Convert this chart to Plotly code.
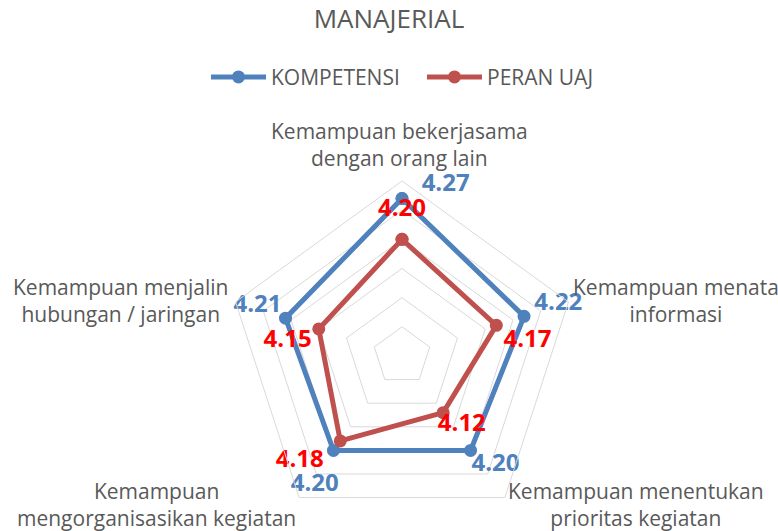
import plotly.graph_objects as go

categories = [
    "Kemampuan bekerjasama<br>dengan orang lain",
    "Kemampuan menata<br>informasi",
    "Kemampuan menentukan<br>prioritas kegiatan",
    "Kemampuan<br>mengorganisasikan kegiatan",
    "Kemampuan menjalin<br>hubungan / jaringan",
]
kompetensi = [4.27, 4.22, 4.20, 4.20, 4.21]
peran_uaj = [4.20, 4.17, 4.12, 4.18, 4.15]

W, H = 778, 531
CX, R = 402, 175
FONT = "Open Sans"
GRAY = "#595959"
BLUE = "#4F81BD"
RED = "#C0504D"
LABEL_FS = 24
NB = "\u00a0"

# data-label placement styles (position, offset distance in px, horizontal nbsp padding)
blue_lab_pos = ["top center", "top center", "bottom center", "bottom center", "top center"]
blue_lab_off = [1.2, 0, 2.9, 22.3, 0]
blue_lab_pad = [14, 11, 8, -6, -9]
red_lab_pos = ["top center", "bottom center", "bottom center", "bottom center", "bottom center"]
red_lab_off = [17.6, 3.4, 0, 8.4, 0]
red_lab_pad = [0, 10, 6, -13, -10]


def closed(v):
    return list(v) + [v[0]]


def off_to_size(o):
    return 1.6 * (o - 1) if o >= 1 else 0


def padded(v, k):
    s = f"{v:.2f}"
    return NB * k + s if k >= 0 else s + NB * (-k)


fig = go.Figure()
for name, vals, color in [("KOMPETENSI", kompetensi, BLUE), ("PERAN UAJ", peran_uaj, RED)]:
    fig.add_trace(go.Scatterpolar(
        r=closed(vals), theta=closed(categories), name=name,
        mode="lines+markers",
        line=dict(color=color, width=5), marker=dict(color=color, size=13),
        hoverinfo="name+r",
    ))

for vals, pos, off, pad, color in [
    (kompetensi, blue_lab_pos, blue_lab_off, blue_lab_pad, BLUE),
    (peran_uaj, red_lab_pos, red_lab_off, red_lab_pad, "#FF0000"),
]:
    fig.add_trace(go.Scatterpolar(
        r=vals, theta=categories, mode="markers+text", showlegend=False, hoverinfo="skip",
        marker=dict(size=[off_to_size(o) for o in off], opacity=0, color=color),
        text=[padded(v, k) for v, k in zip(vals, pad)],
        textposition=pos,
        textfont=dict(family=FONT, size=LABEL_FS, color=color, weight="bold"),
    ))

# category label positions (pixel centres)
label_pos = [(399, 145), (676, 300.5), (636, 504), (156, 504), (120.5, 300.5)]
annotations = []
for cat, (px, py) in zip(categories, label_pos):
    annotations.append(dict(
        text=cat, x=px / W, y=1 - py / H, xref="paper", yref="paper",
        xanchor="center", yanchor="middle", showarrow=False, align="center",
        font=dict(family=FONT, size=21, color=GRAY),
    ))

fig.update_layout(
    width=W, height=H,
    margin=dict(l=0, r=0, t=0, b=0),
    paper_bgcolor="white", plot_bgcolor="white",
    title=dict(text="MANAJERIAL", x=0.5, xanchor="center", y=1 - 19 / H, yanchor="middle",
               font=dict(family=FONT, size=26, color=GRAY)),
    legend=dict(orientation="h", x=206 / W, xanchor="left", y=1 - 77.3 / H, yanchor="middle",
                font=dict(family=FONT, size=21, color=GRAY), itemwidth=55,
                entrywidth=146, entrywidthmode="pixels"),
    annotations=annotations,
    polar=dict(
        domain=dict(x=[(CX - R) / W, (CX + R) / W], y=[0, 2 * R / H]),
        bgcolor="white",
        gridshape="linear",
        radialaxis=dict(range=[4.0, 4.3], tick0=4.0, dtick=0.05, showticklabels=False,
                        ticks="", showline=False, gridcolor="#D9D9D9", gridwidth=1),
        angularaxis=dict(rotation=90, direction="clockwise", showticklabels=False,
                         ticks="", showgrid=False, showline=True, linecolor="#D9D9D9", linewidth=1),
    ),
)

fig.write_html("out.html", post_script="document.body.style.margin='0';",
               config={"displayModeBar": False})
